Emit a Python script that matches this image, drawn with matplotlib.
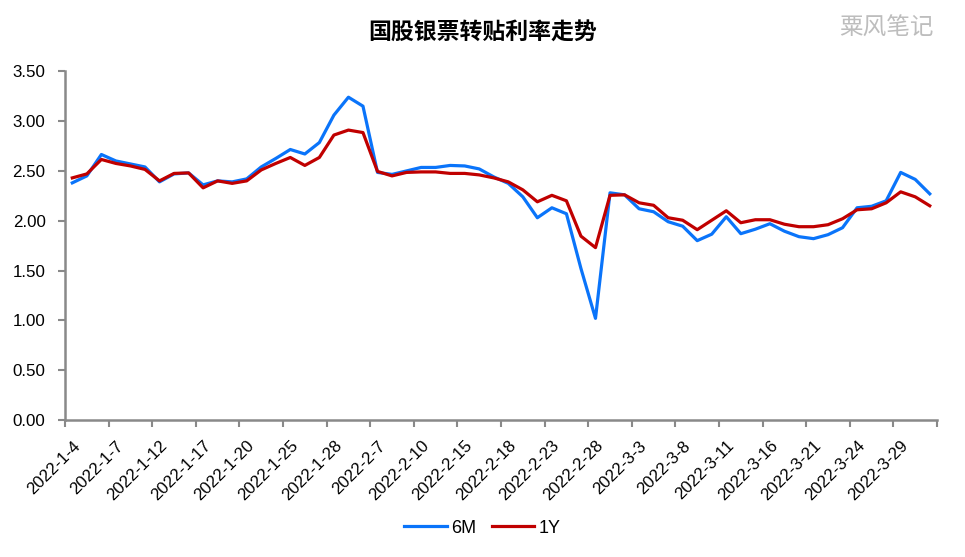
import numpy as np
import matplotlib
matplotlib.use('Agg')
from matplotlib import pyplot as plt

plt.rcParams['font.family'] = ['Liberation Sans', 'Noto Sans CJK SC', 'DejaVu Sans']

# trading days, Jan-Mar 2022 (incl. 1-29, 1-30 working weekend)
dates = (['2022-1-%d' % d for d in [4, 5, 6, 7, 10, 11, 12, 13, 14, 17, 18, 19, 20, 21, 24, 25, 26, 27, 28, 29, 30]]
         + ['2022-2-%d' % d for d in [7, 8, 9, 10, 11, 14, 15, 16, 17, 18, 21, 22, 23, 24, 25, 28]]
         + ['2022-3-%d' % d for d in [1, 2, 3, 4, 7, 8, 9, 10, 11, 14, 15, 16, 17, 18, 21, 22, 23, 24, 25, 28, 29, 30, 31]])

rate_6m = [2.38, 2.45, 2.665, 2.60, 2.57, 2.54, 2.39, 2.47, 2.48, 2.36,
           2.40, 2.39, 2.42, 2.54, 2.625, 2.715, 2.67, 2.785, 3.06, 3.24,
           3.15, 2.485, 2.465, 2.50, 2.535, 2.535, 2.555, 2.55, 2.52, 2.44,
           2.375, 2.24, 2.03, 2.13, 2.07, 1.52, 1.02, 2.28, 2.26, 2.12,
           2.09, 1.99, 1.945, 1.80, 1.865, 2.04, 1.87, 1.915, 1.97, 1.895,
           1.84, 1.82, 1.86, 1.93, 2.13, 2.145, 2.20, 2.485, 2.415, 2.27]
rate_1y = [2.43, 2.47, 2.615, 2.575, 2.55, 2.515, 2.40, 2.475, 2.48, 2.33,
           2.40, 2.375, 2.40, 2.51, 2.575, 2.635, 2.555, 2.635, 2.86, 2.91,
           2.885, 2.495, 2.45, 2.485, 2.49, 2.49, 2.475, 2.475, 2.46, 2.43,
           2.39, 2.31, 2.19, 2.255, 2.20, 1.845, 1.73, 2.255, 2.26, 2.18,
           2.155, 2.03, 2.005, 1.91, 2.005, 2.10, 1.98, 2.01, 2.01, 1.965,
           1.94, 1.94, 1.96, 2.02, 2.11, 2.12, 2.18, 2.29, 2.24, 2.15]

x = np.arange(len(dates))

fig = plt.figure(figsize=(9.65, 5.57), dpi=100)
ax = fig.add_axes([0.0674, 0.246, 0.9036, 0.626])

ax.plot(x, rate_6m, color='#0A74FA', lw=2.3, label='6M')
ax.plot(x, rate_1y, color='#C00000', lw=2.3, label='1Y')

ax.set_xlim(-0.5, len(dates) - 0.5)
ax.set_ylim(0, 3.5)
ax.set_yticks(np.arange(0, 3.51, 0.5))
ax.set_yticklabels(['%.2f' % v for v in np.arange(0, 3.51, 0.5)], fontsize=12.2)

ax.set_xticks(x[::3])
ax.set_xticklabels(dates[::3], rotation=45, ha='right', rotation_mode='anchor', fontsize=12.2)
ax.set_xticks(np.arange(-0.5, len(dates), 3), minor=True)
ax.tick_params(axis='x', which='major', length=0, pad=13)
ax.tick_params(axis='x', which='minor', length=5, width=1.5, color='#898989')
ax.tick_params(axis='y', length=5, width=1.5, color='#898989', pad=9)

for s in ['top', 'right']:
    ax.spines[s].set_visible(False)
for s in ['left', 'bottom']:
    ax.spines[s].set_color('#898989')
    ax.spines[s].set_linewidth(1.8)

fig.text(0.5, 0.94, '国股银票转贴利率走势', ha='center', va='center',
         fontsize=16.5, fontweight='bold', family=['Noto Sans CJK SC'])
fig.text(0.968, 0.95, '粟风笔记', ha='right', va='center',
         fontsize=17, color='#BDBDBD', family=['Noto Sans CJK SC'])

fig.legend(loc='center', bbox_to_anchor=(0.5, 0.052), ncol=2, frameon=False,
           fontsize=13, handlelength=2.35, columnspacing=0.85, handletextpad=0.25)

fig.savefig('out.png', dpi=100)
